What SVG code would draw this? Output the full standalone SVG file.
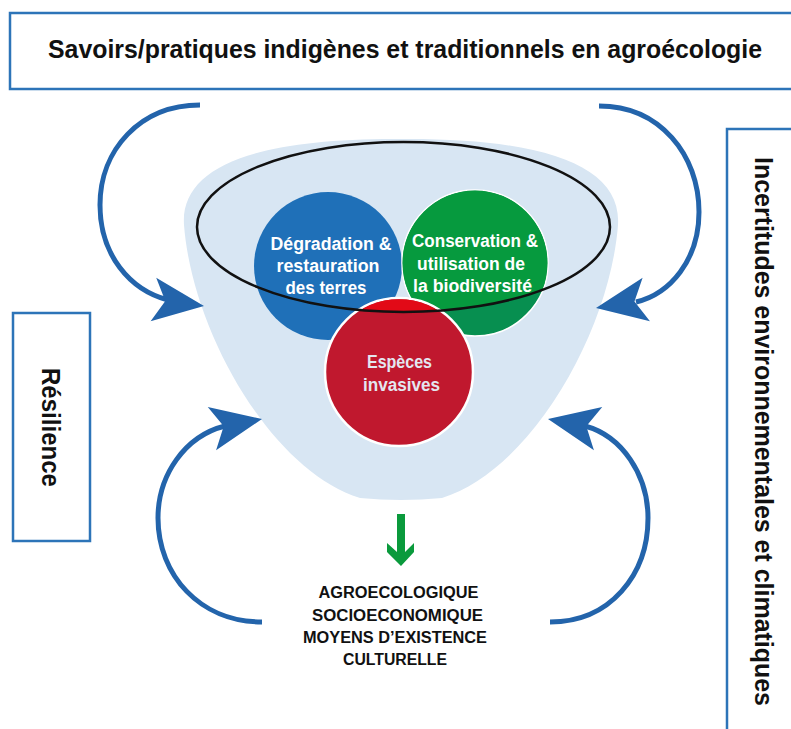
<svg xmlns="http://www.w3.org/2000/svg" width="791" height="729" viewBox="0 0 791 729">
<style>
.box{fill:#fff;stroke:#2d74b8;stroke-width:2.5}
.big{font-family:"Liberation Sans",Arial,sans-serif;font-weight:bold;font-size:26px;fill:#111}
.ct{font-family:"Liberation Sans",Arial,sans-serif;font-weight:bold;font-size:17.5px;text-anchor:middle}
.bt{font-family:"Liberation Sans",Arial,sans-serif;font-weight:bold;font-size:16px;fill:#111;text-anchor:middle}
.arc{fill:none;stroke:#2364ab;stroke-width:5}
.head{fill:#2364ab}
</style>
<defs>
<path id="ah" d="M0,0 L-51,-22 L-39,0 L-51,22 Z"/>
<clipPath id="ell"><ellipse cx="403.5" cy="227" rx="206.5" ry="85"/></clipPath>
</defs>
<rect width="791" height="729" fill="#fff"/>

<g id="title">
<rect class="box" x="10" y="13" width="783" height="76"/>
<text class="big" x="48" y="58" textLength="714" lengthAdjust="spacingAndGlyphs">Savoirs/pratiques indigènes et traditionnels en agroécologie</text>
</g>

<g id="resilience">
<rect class="box" x="13" y="313" width="77" height="228"/>
<text class="big" text-anchor="middle" transform="translate(42,427.5) rotate(90)" textLength="119" lengthAdjust="spacingAndGlyphs">Résilience</text>
</g>

<g id="incertitudes">
<rect class="box" x="727" y="129" width="66" height="602"/>
<text class="big" text-anchor="middle" transform="translate(755,431.5) rotate(90)" textLength="549" lengthAdjust="spacingAndGlyphs">Incertitudes environnementales et climatiques</text>
</g>

<g id="bowl">
<path fill="#d8e6f3" d="M184,225 C180,165 260,138 401,139 C542,138 622,165 618,225 C610,330 532,470 442,498 Q401,502 360,498 C270,470 192,330 184,225 Z"/>
</g>

<g id="degradation">
<circle cx="328" cy="266" r="74" fill="#1f70b8"/>
<text class="ct" fill="#fff"><tspan x="331" y="250" textLength="121" lengthAdjust="spacingAndGlyphs">Dégradation &amp;</tspan><tspan x="328" y="272" textLength="103" lengthAdjust="spacingAndGlyphs">restauration</tspan><tspan x="326" y="294" textLength="81" lengthAdjust="spacingAndGlyphs">des terres</tspan></text>
</g>

<g id="conservation">
<circle cx="475" cy="263" r="73" fill="#078f50" stroke="#fff" stroke-width="1.5"/>
<circle cx="475" cy="263" r="72.5" fill="#069a3e" clip-path="url(#ell)"/>
<text class="ct" fill="#fff"><tspan x="475" y="247" textLength="126" lengthAdjust="spacingAndGlyphs">Conservation &amp;</tspan><tspan x="471" y="270" textLength="108" lengthAdjust="spacingAndGlyphs">utilisation de</tspan><tspan x="472.5" y="292" textLength="119" lengthAdjust="spacingAndGlyphs">la biodiversité</tspan></text>
</g>

<g id="especes">
<circle cx="399" cy="372" r="74" fill="#c0182e" stroke="#fff" stroke-width="2.5"/>
<circle cx="399" cy="372" r="72.8" fill="#e20a17" clip-path="url(#ell)"/>
<text class="ct" fill="#e4e6f0"><tspan x="399.5" y="368" textLength="65" lengthAdjust="spacingAndGlyphs">Espèces</tspan><tspan x="401.5" y="391" textLength="77" lengthAdjust="spacingAndGlyphs">invasives</tspan></text>
</g>

<g id="ellipse">
<ellipse cx="403.5" cy="227" rx="206.5" ry="85" fill="none" stroke="#111" stroke-width="2.5"/>
</g>

<g id="connectors">
<path class="arc" d="M200,105 C140,105 100,150 100,205 C100,255 130,290 168,300"/>
<use href="#ah" class="head" transform="translate(204,306) rotate(7.3)"/>
<path class="arc" d="M599,106 C660,106 699,155 699,212 C699,260 670,294 636,302"/>
<use href="#ah" class="head" transform="translate(596,308) rotate(170.4)"/>
<path class="arc" d="M262,622 C200,622 158,575 158,518 C158,475 185,436 225,426"/>
<use href="#ah" class="head" transform="translate(262,419) rotate(-10.9)"/>
<path class="arc" d="M550,622 C610,622 648,575 648,518 C648,475 622,436 585,426"/>
<use href="#ah" class="head" transform="translate(548,419) rotate(-169.1)"/>
<polygon fill="#0a9a3c" points="397,514 405,514 405,552 414,543 414,552 401,566 387,552 387,543 397,552"/>
</g>

<g id="outcomes">
<text class="bt"><tspan x="398.5" y="598" textLength="160" lengthAdjust="spacingAndGlyphs">AGROECOLOGIQUE</tspan><tspan x="397.5" y="621" textLength="171" lengthAdjust="spacingAndGlyphs">SOCIOECONOMIQUE</tspan><tspan x="395" y="643" textLength="184" lengthAdjust="spacingAndGlyphs">MOYENS D’EXISTENCE</tspan><tspan x="395" y="665" textLength="104" lengthAdjust="spacingAndGlyphs">CULTURELLE</tspan></text>
</g>
</svg>
